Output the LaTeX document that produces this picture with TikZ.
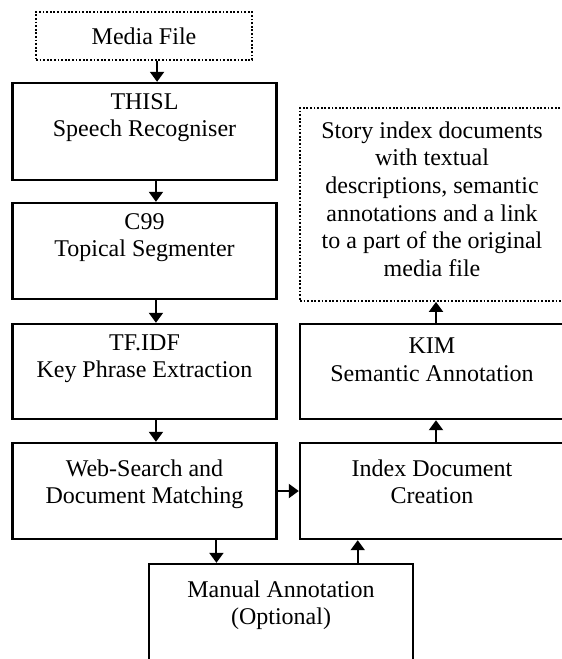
\documentclass[tikz,border=0pt]{standalone}
\usepackage{fontspec}
\setmainfont{Liberation Serif}
\usetikzlibrary{calc,arrows.meta}

% text of a stage box: [height]{space above}{lines}, set at the top of the box
\newcommand{\stagetext}[3][41pt]{\parbox[t][#1][t]{132pt}{\centering\vspace*{#2}\strut #3}}

\begin{document}
\begin{tikzpicture}[x=0.5pt,y=-0.5pt,
	>={Triangle[width=7pt,length=5pt]},
	font=\fontsize{12}{13.8}\selectfont,
	stage/.style={draw, line width=1.2pt, inner xsep=0pt, inner ysep=3.5pt},
	media/.style={draw, line width=0.9pt, dash pattern=on 0.9pt off 0.9pt},
	flow/.style={->, line width=1pt}]

	% page and clipping of the cut boxes
	\fill[white] (0,0) rectangle (562,659);
	\useasboundingbox (0,0) rectangle (562,659);
	\clip (0,0) rectangle (562,659);

	% the source file
	\node[media, minimum width=108pt, minimum height=24pt] (file) at (144,36) {Media File};

	% left column of stages
	\node[stage] (thisl) at (144.5,131.5) {\stagetext[41.5pt]{0pt}{THISL\\Speech Recogniser}};
	\node[stage] (c99) at (144.5,251) {\stagetext{0pt}{C99\\Topical Segmenter}};
	\node[stage] (tfidf) at (144.5,371.5) {\stagetext[40.5pt]{0pt}{TF.IDF\\Key Phrase Extraction}};
	\node[stage] (web) at (144.5,491) {\stagetext{3.5pt}{Web-Search and\\Document Matching}};

	% right column of stages
	\node[stage] (index) at (432,491) {\stagetext{3.5pt}{Index Document\\Creation}};
	\node[stage] (kim) at (432,371.5) {\stagetext[40.5pt]{1.75pt}{KIM\\Semantic Annotation}};
	\node[media, inner xsep=0pt, inner ysep=3.5pt] (story) at (432,204.5) {\stagetext[89.5pt]{2pt}{Story index documents\\with textual\\descriptions, semantic\\annotations and a link\\to a part of the original\\media file}};

	% the optional step below
	\node[stage] (manual) at (281,614) {\stagetext[43pt]{3.5pt}{Manual Annotation\\(Optional)}};

	% arrows down the left column
	\coordinate (A) at ($(file.south west)!.56!(file.south east)$);
	\draw[flow] (A) -- (A |- thisl.north);
	\coordinate (B) at ($(thisl.south west)!.543!(thisl.south east)$);
	\draw[flow] (B) -- (B |- c99.north);
	\coordinate (C) at ($(c99.south west)!.543!(c99.south east)$);
	\draw[flow] (C) -- (C |- tfidf.north);
	\coordinate (D) at ($(tfidf.south west)!.543!(tfidf.south east)$);
	\draw[flow] (D) -- (D |- web.north);

	% across and through the manual step
	\draw[flow] (web.east) -- (index.west);
	\coordinate (E) at ($(web.south west)!.77!(web.south east)$);
	\draw[flow] (E) -- (E |- manual.north);
	\coordinate (F) at ($(manual.north west)!.788!(manual.north east)$);
	\draw[flow] (F) -- (F |- index.south);

	% arrows up the right column
	\coordinate (G) at ($(index.north west)!.515!(index.north east)$);
	\draw[flow] (G) -- (G |- kim.south);
	\coordinate (H) at ($(kim.north west)!.515!(kim.north east)$);
	\draw[flow] (H) -- (H |- story.south);

\end{tikzpicture}
\end{document}
